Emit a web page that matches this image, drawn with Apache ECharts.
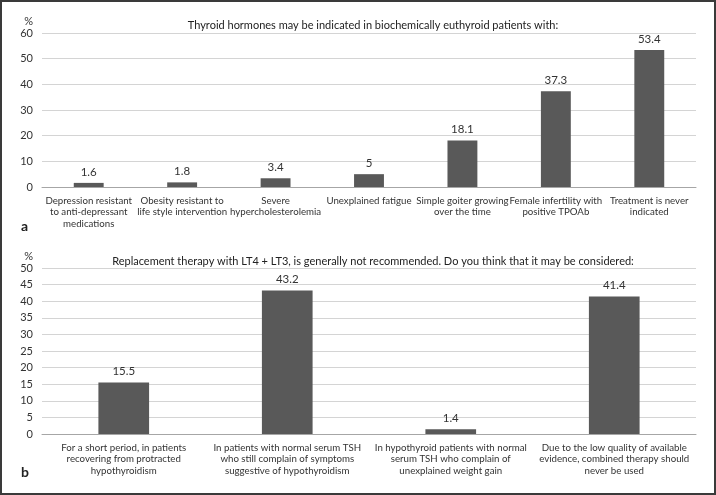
<!DOCTYPE html>
<html>
<head>
<meta charset="utf-8">
<script src="https://cdn.jsdelivr.net/npm/echarts@6/dist/echarts.min.js"></script>
<style>
html,body{margin:0;padding:0;background:#fff;}
#c{width:716px;height:495px;box-sizing:border-box;border:2px solid #3a3a3a;}
</style>
</head>
<body>
<div id="c"></div>
<script>
const titleA = 'Thyroid hormones may be indicated in biochemically euthyroid patients with:';
const titleB = 'Replacement therapy with LT4 + LT3, is generally not recommended. Do you think that it may be considered:';
const catsA = [
  'Depression resistant\nto anti-depressant\nmedications',
  'Obesity resistant to\nlife style intervention',
  'Severe\nhypercholesterolemia',
  'Unexplained fatigue',
  'Simple goiter growing\nover the time',
  'Female infertility with\npositive TPOAb',
  'Treatment is never\nindicated'
];
const valsA = [1.6, 1.8, 3.4, 5, 18.1, 37.3, 53.4];
const ticksA = {min: 0, max: 60, interval: 10};
const catsB = [
  'For a short period, in patients\nrecovering from protracted\nhypothyroidism',
  'In patients with normal serum TSH\nwho still complain of symptoms\nsuggestive of hypothyroidism',
  'In hypothyroid patients with normal\nserum TSH who complain of\nunexplained weight gain',
  'Due to the low quality of available\nevidence, combined therapy should\nnever be used'
];
const valsB = [15.5, 43.2, 1.4, 41.4];
const ticksB = {min: 0, max: 50, interval: 5};

const FONT = 'Lato, "Open Sans", sans-serif';
const TXT = '#333333';
const chart = echarts.init(document.getElementById('c'), null, {renderer: 'canvas'});

function xAxis(idx, cats) {
  return {
    type: 'category', gridIndex: idx, data: cats,
    axisTick: {show: false},
    axisLine: {lineStyle: {color: '#a6a6a6', width: 1}},
    axisLabel: {color: TXT, fontFamily: FONT, fontSize: 9.7, lineHeight: 11.5, margin: 8, interval: 0}
  };
}
function yAxis(idx, t) {
  return {
    type: 'value', gridIndex: idx, min: t.min, max: t.max, interval: t.interval,
    name: '%', nameLocation: 'end', nameGap: 6,
    nameTextStyle: {color: TXT, fontFamily: FONT, fontSize: 11, align: 'right', padding: [0, 9, 0, 0]},
    axisLine: {show: false}, axisTick: {show: false},
    axisLabel: {color: TXT, fontFamily: FONT, fontSize: 11, margin: 9},
    splitLine: {lineStyle: {color: '#d4d4d4', width: 1}}
  };
}
function series(idx, vals, bw) {
  return {
    type: 'bar', xAxisIndex: idx, yAxisIndex: idx, data: vals,
    barWidth: bw,
    itemStyle: {color: '#595959'},
    label: {show: true, position: 'top', color: TXT, fontFamily: FONT, fontSize: 11.5, distance: 5},
    silent: true
  };
}

chart.setOption({
  animation: false,
  title: [
    {text: titleA, left: 366, top: 13, textAlign: 'center',
     textStyle: {color: '#222', fontFamily: FONT, fontSize: 11, fontWeight: 'normal'}},
    {text: titleB, left: 366, top: 249, textAlign: 'center',
     textStyle: {color: '#222', fontFamily: FONT, fontSize: 11, fontWeight: 'normal'}}
  ],
  grid: [
    {left: 40, right: 18, top: 31, height: 154, containLabel: false},
    {left: 40, right: 18, top: 266, height: 166, containLabel: false}
  ],
  xAxis: [xAxis(0, catsA), xAxis(1, catsB)],
  yAxis: [yAxis(0, ticksA), yAxis(1, ticksB)],
  series: [series(0, valsA, '32%'), series(1, valsB, '31%')],
  graphic: [
    {type: 'text', left: 19, top: 217, style: {text: 'a', fill: '#222', font: 'bold 14px ' + FONT}},
    {type: 'text', left: 19, top: 463, style: {text: 'b', fill: '#222', font: 'bold 14px ' + FONT}}
  ]
});
</script>
</body>
</html>
